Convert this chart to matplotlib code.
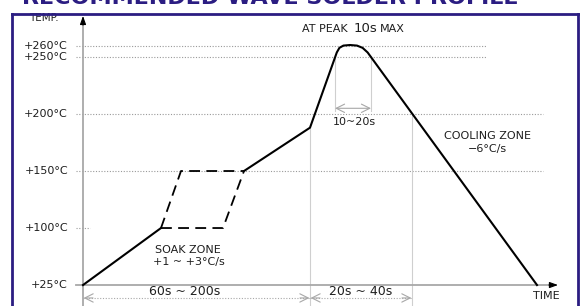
import numpy as np
import matplotlib.pyplot as plt

# time in seconds, temperature in deg C
ramp_t = [0, 39]
ramp_T = [25, 100]
soak_fast_t = [39, 49, 80.5]
soak_fast_T = [100, 150, 150]
soak_slow_t = [39, 70, 80.5]
soak_slow_T = [100, 100, 150]
reflow_t = [80.5, 113.5, 126.9, 128.2, 130.2, 133.5, 137, 139.8, 142.3, 227]
reflow_T = [150, 188, 254, 258, 260, 260.5, 260, 258, 254, 25]

temp_ticks = [260, 250, 200, 150, 100, 25]
temp_labels = ['+260°C', '+250°C', '+200°C', '+150°C', '+100°C', '+25°C']

navy = '#2b1d82'
grey = '#a8a8a8'
light = '#cfcfcf'
txt = '#1e1e1e'


# the drawing squeezes the 25..100 band
def fwd(T):
    T = np.asarray(T, float)
    return np.where(T < 100, 50 + (T - 25) * 2 / 3, T)


def inv(s):
    s = np.asarray(s, float)
    return np.where(s < 100, 25 + (s - 50) * 1.5, s)


fig = plt.figure(figsize=(5.85, 3.06), dpi=100)
ax = fig.add_axes([12 / 585, -14 / 306, 566 / 585, 1.0])
ax.set_yscale('function', functions=(fwd, inv))
ax.set_xlim(-35.5, 247.5)
ax.set_ylim(-21, 287.7)
ax.set_xticks([])
ax.set_yticks([])
ax.minorticks_off()
for side in ['left', 'top', 'right']:
    ax.spines[side].set_color(navy)
    ax.spines[side].set_linewidth(2)
ax.spines['bottom'].set_visible(False)

fig.text(22 / 585, 1 - 4.5 / 306, 'RECOMMENDED WAVE SOLDER PROFILE', color=navy,
         fontsize=16, fontweight='bold', ha='left', va='baseline')

# dotted guide lines
dots = dict(color='#9a9a9a', lw=0.8, linestyle=(0, (1, 1.5)))
ax.plot([-3.5, 201.5], [260, 260], **dots)
ax.plot([-3.5, 201.5], [250, 250], **dots)
ax.plot([-3.5, 230], [200, 200], **dots)
ax.plot([-3.5, 230], [150, 150], **dots)
ax.plot([-3.5, 3.5], [100, 100], **dots)

for T, lab in zip(temp_ticks, temp_labels):
    ax.text(-7.5, T, lab, ha='right', va='center', fontsize=8, color=txt)

# vertical helper lines
ax.plot([113.5, 113.5], [-21, 188], color=light, lw=0.8)
ax.plot([164.5, 164.5], [-21, 200], color=light, lw=0.8)
ax.plot([126, 126], [251, 203], color=light, lw=0.8)
ax.plot([144, 144], [251, 203], color=light, lw=0.8)

# axes
ax.plot([0, 0], [-21, 283], color=grey, lw=1.3)
ax.plot([-3.5, 234], [25, 25], color=grey, lw=1.3)
ax.annotate('', xy=(0, 286), xytext=(0, 278),
            arrowprops=dict(arrowstyle='-|>,head_length=0.5,head_width=0.18',
                            color='black', lw=0.8, shrinkA=0, shrinkB=0))
ax.annotate('', xy=(237.5, 25), xytext=(233, 25),
            arrowprops=dict(arrowstyle='-|>,head_length=0.5,head_width=0.18',
                            color='black', lw=0.8, shrinkA=0, shrinkB=0))

# profile
ax.plot(ramp_t, ramp_T, color='black', lw=1.5)
ax.plot(reflow_t, reflow_T, color='black', lw=1.5, solid_joinstyle='round')
ax.plot(soak_fast_t, soak_fast_T, color='black', lw=1.3, dashes=(6, 3.5))
ax.plot(soak_slow_t, soak_slow_T, color='black', lw=1.3, dashes=(6, 3.5))

# time spans
span = dict(arrowstyle='<->,head_length=0.6,head_width=0.3', color=grey, lw=0.8,
            shrinkA=0, shrinkB=0)
ax.annotate('', xy=(126, 205), xytext=(144, 205), arrowprops=span)
for a, b in [(0, 113.5), (113.5, 164.5)]:
    ax.plot([a, b], [8, 8], color=grey, lw=0.8, linestyle=(0, (1, 1.5)))
    ax.annotate('', xy=(a + 0.3, 8), xytext=(a + 5, 8),
                arrowprops=dict(arrowstyle='->,head_length=0.6,head_width=0.3',
                                color=grey, lw=0.8, shrinkA=0, shrinkB=0))
    ax.annotate('', xy=(b - 0.3, 8), xytext=(b - 5, 8),
                arrowprops=dict(arrowstyle='->,head_length=0.6,head_width=0.3',
                                color=grey, lw=0.8, shrinkA=0, shrinkB=0))

ax.text(51, 17, '60s ~ 200s', ha='center', va='center', fontsize=9, color=txt)
ax.text(139, 17, '20s ~ 40s', ha='center', va='center', fontsize=9, color=txt)
ax.text(135.5, 193, '10~20s', ha='center', va='center', fontsize=8, color=txt)
ax.text(132.5, 274.5, 'AT PEAK', ha='right', va='center', fontsize=8, color=txt)
ax.text(141, 275, '10s', ha='center', va='center', fontsize=9.5, color=txt)
ax.text(148.5, 274.5, 'MAX', ha='left', va='center', fontsize=8, color=txt)
ax.text(52.5, 71, 'SOAK ZONE', ha='center', va='center', fontsize=8, color=txt)
ax.text(53, 55, '+1 ~ +3°C/s', ha='center', va='center', fontsize=8, color=txt)
ax.text(202, 180.5, 'COOLING ZONE', ha='center', va='center', fontsize=8, color=txt)
ax.text(202, 169, '−6°C/s', ha='center', va='center', fontsize=8, color=txt)
ax.text(231.5, 10.6, 'TIME', ha='center', va='center', fontsize=8, color=txt)
ax.text(-19.5, 284, 'TEMP.', ha='center', va='center', fontsize=7.5, color=txt, zorder=1)

fig.savefig('out.png', dpi=100)
